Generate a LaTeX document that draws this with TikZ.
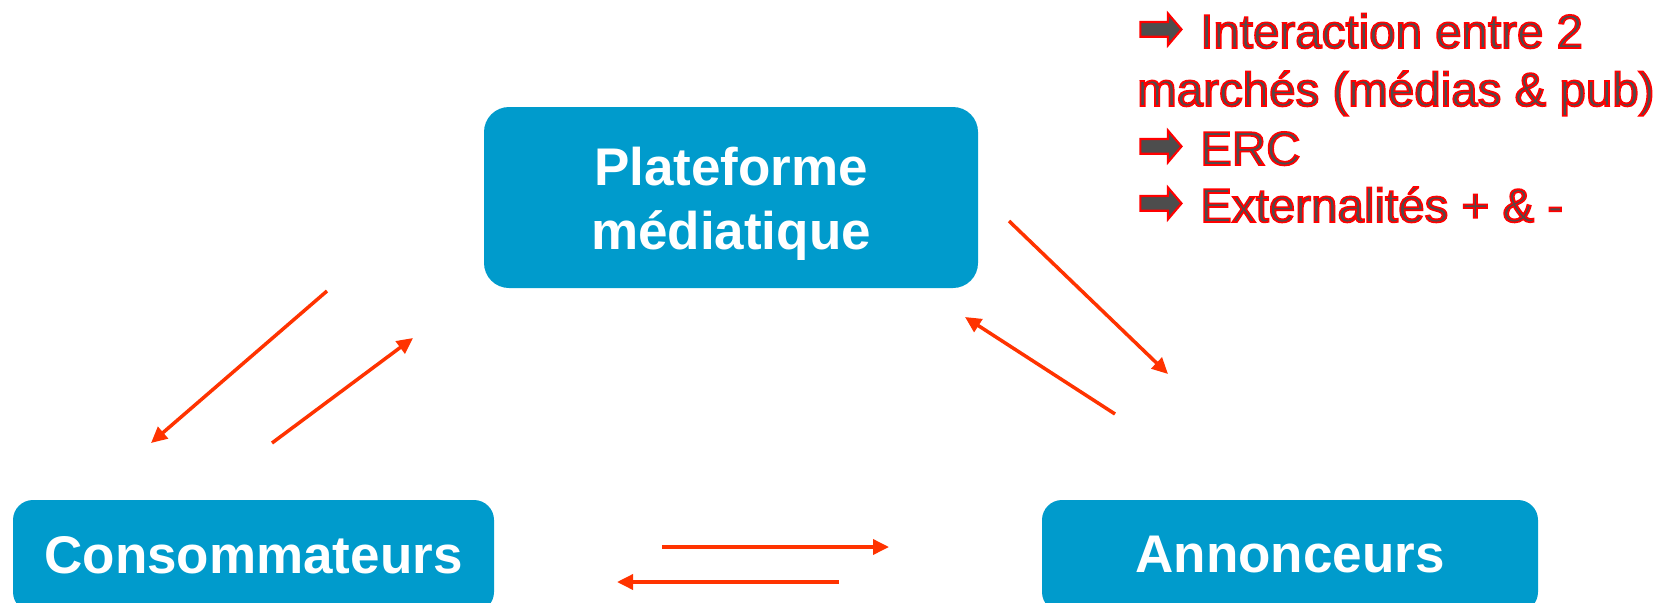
\documentclass[tikz,border=0pt]{standalone}
\usepackage{fontspec}
\setmainfont{Liberation Sans}
\newfontfamily\symfont{DejaVu Sans}
\usetikzlibrary{arrows.meta}

\definecolor{boxblue}{RGB}{0,155,204}
\definecolor{flowred}{RGB}{255,51,0}
\definecolor{notegray}{RGB}{77,77,77}

\tikzset{
  box/.style={fill=boxblue, draw=none, inner sep=0pt, outer sep=0pt, anchor=north west},
  boxlabel/.style={text=white, inner sep=0pt, font=\fontsize{53}{64}\selectfont\bfseries, align=center},
  flow/.style={draw=flowred, line width=3.5pt, -{Triangle[length=16pt,width=15pt]}},
  notestyle/.style={text=notegray, inner sep=0pt, anchor=base west, font=\fontsize{47.5}{58}\selectfont},
}

% gray letters stroked with a thin red rim (PDF text render mode 2)
\newcommand\rimmed[1]{\special{pdf:literal direct q 1 0 0 RG 1.7 w 2 Tr}#1\special{pdf:literal direct Q}}
% bullet arrow, rimmed the same way
\newcommand\notearrow{\makebox[63pt][l]{\smash{\raisebox{-1.5pt}{\scalebox{1.15}[1.35]{\rimmed{\symfont\char"27A1}}}}}}

\begin{document}
\begin{tikzpicture}[x=1pt, y=-1pt]
  \useasboundingbox (0,0) rectangle (1672,602);
  \clip (0,0) rectangle (1672,602);

  % boxes
  \node[box, minimum width=494pt, minimum height=181pt, rounded corners=25pt] (plat) at (484,107) {};
  \node[boxlabel] (platlabel) at (731,204.2) {Plateforme\\médiatique};

  \node[box, minimum width=481pt, minimum height=112pt, rounded corners=20pt] (cons) at (13,500) {};
  \node[boxlabel, anchor=base] (conslabel) at (253.5,573) {Consommateurs};

  \node[box, minimum width=496pt, minimum height=112pt, rounded corners=20pt] (annon) at (1042,500) {};
  \node[boxlabel, anchor=base] (annonlabel) at (1290,572) {Annonceurs};

  % flows between the three actors
  \coordinate (p1s) at (327,291);  \coordinate (p1e) at (151,443);
  \coordinate (p2s) at (272,443);  \coordinate (p2e) at (413,338);
  \coordinate (p3s) at (1009,221); \coordinate (p3e) at (1168,374);
  \coordinate (p4s) at (1115,414); \coordinate (p4e) at (965,317);
  \coordinate (p5s) at (662,547);  \coordinate (p5e) at (889,547);
  \coordinate (p6s) at (839,582);  \coordinate (p6e) at (617,582);

  \draw[flow] (p1s) -- (p1e);
  \draw[flow] (p2s) -- (p2e);
  \draw[flow] (p3s) -- (p3e);
  \draw[flow] (p4s) -- (p4e);
  \draw[flow] (p5s) -- (p5e);
  \draw[flow] (p6s) -- (p6e);

  % note in the upper right corner
  \node[notestyle] (note1) at (1137,48)  {\notearrow\rimmed{Interaction entre 2}};
  \node[notestyle] (note2) at (1137,106) {\rimmed{marchés (médias \& pub)}};
  \node[notestyle] (note3) at (1137,165) {\notearrow\rimmed{ERC}};
  \node[notestyle] (note4) at (1137,222) {\notearrow\rimmed{Externalités + \& -}};
\end{tikzpicture}
\end{document}
